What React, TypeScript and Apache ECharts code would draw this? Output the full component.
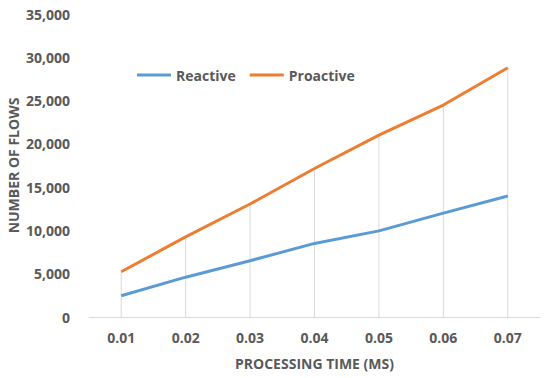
import React, { useEffect, useRef } from "react";
import * as echarts from "echarts";

const categories = ["0.01", "0.02", "0.03", "0.04", "0.05", "0.06", "0.07"];
const reactive = [2450, 4600, 6500, 8500, 9950, 12000, 13980];
const proactive = [5230, 9250, 13050, 17150, 21000, 24480, 28800];
const yTicks = { min: 0, max: 35000, interval: 5000 };

const FONT = "'Open Sans', 'Noto Sans', sans-serif";
const TEXT = "#595959";

export default function App() {
  const ref = useRef<HTMLDivElement>(null);
  useEffect(() => {
    const chart = echarts.init(ref.current!, null, { renderer: "svg" });
    chart.setOption({
      animation: false,
      textStyle: { fontFamily: FONT },
      grid: { left: 89, right: 10, top: 14, bottom: 61, containLabel: false, outerBoundsMode: "none" },
      legend: {
        data: ["Reactive", "Proactive"],
        left: 132,
        top: 63,
        itemWidth: 34,
        itemHeight: 3,
        itemGap: 14,
        icon: "rect",
        textStyle: { color: TEXT, fontSize: 14, fontWeight: "bold", fontFamily: FONT },
      },
      xAxis: {
        type: "category",
        data: categories,
        boundaryGap: true,
        name: "PROCESSING TIME (MS)",
        nameLocation: "middle",
        nameGap: 39,
        nameMoveOverlap: false,
        nameTextStyle: { color: TEXT, fontSize: 14, fontWeight: "bold" },
        axisLine: { lineStyle: { color: "#d9d9d9", width: 1 } },
        axisTick: { show: false },
        axisLabel: { color: TEXT, fontSize: 14, fontWeight: "bold", margin: 13 },
        splitLine: { show: false },
      },
      yAxis: {
        type: "value",
        min: yTicks.min,
        max: yTicks.max,
        interval: yTicks.interval,
        name: "NUMBER OF FLOWS",
        nameLocation: "middle",
        nameGap: 69,
        nameMoveOverlap: false,
        nameTextStyle: { color: TEXT, fontSize: 14, fontWeight: "bold" },
        axisLine: { show: false },
        axisTick: { show: false },
        splitLine: { show: false },
        axisLabel: {
          color: TEXT,
          fontSize: 14,
          fontWeight: "bold",
          margin: 19,
          formatter: (v: number) => v.toLocaleString("en-US"),
        },
      },
      series: [
        {
          name: "drop",
          type: "bar",
          data: proactive,
          barWidth: 1,
          silent: true,
          z: 1,
          itemStyle: { color: "#d9d9d9" },
        },
        {
          name: "Reactive",
          type: "line",
          data: reactive,
          showSymbol: false,
          symbol: "none",
          z: 3,
          lineStyle: { color: "#5B9BD5", width: 3 },
          itemStyle: { color: "#5B9BD5" },
        },
        {
          name: "Proactive",
          type: "line",
          data: proactive,
          showSymbol: false,
          symbol: "none",
          z: 3,
          lineStyle: { color: "#ED7D31", width: 3 },
          itemStyle: { color: "#ED7D31" },
        },
      ],
    });
    return () => chart.dispose();
  }, []);
  return (
    <div
      ref={ref}
      style={{ position: "absolute", left: 0, top: 0, width: 550, height: 378 }}
    />
  );
}
